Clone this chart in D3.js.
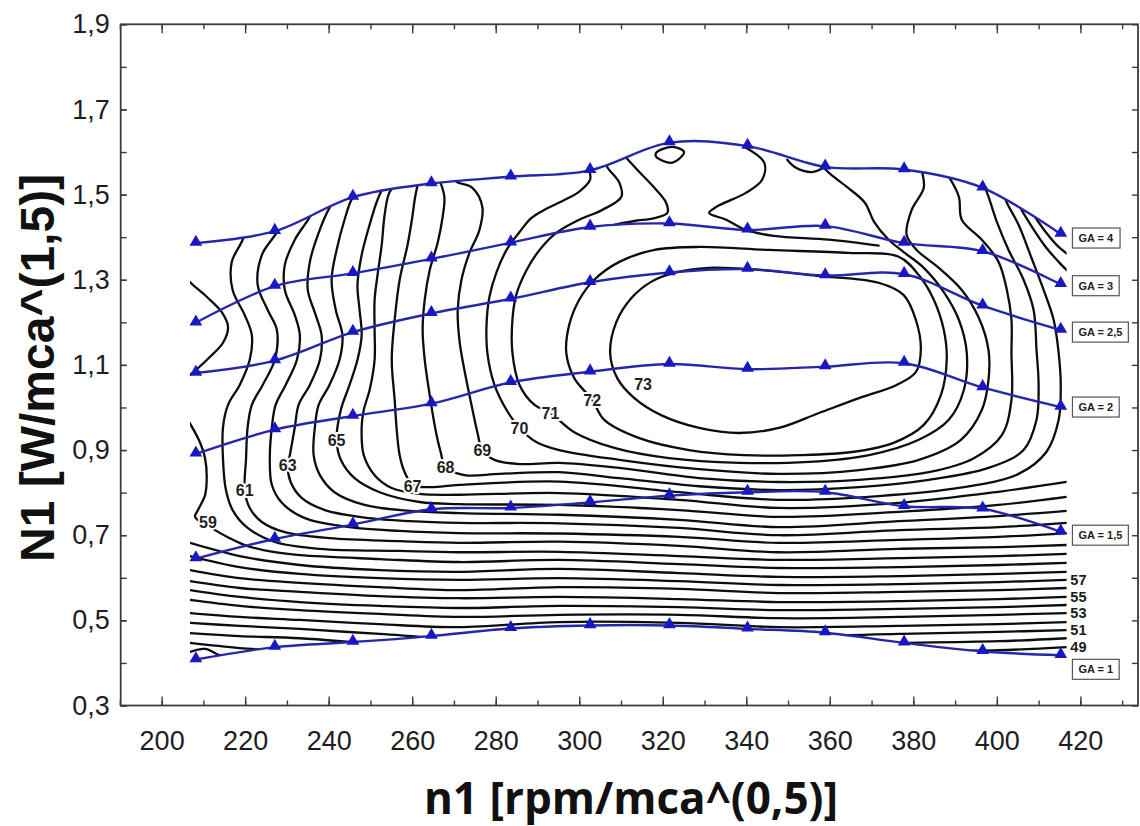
<!DOCTYPE html>
<html><head><meta charset="utf-8">
<script src="https://cdn.jsdelivr.net/npm/d3@7"></script>
<style>body{margin:0;background:#fff}svg{display:block}</style>
</head><body>
<svg id="c" width="1140" height="826"></svg>
<script>
// ---------- axis ticks ----------
const xTicks = [200,220,240,260,280,300,320,340,360,380,400,420];
const xMinorTicks = [190,200,210,220,230,240,250,260,270,280,290,300,310,320,330,340,350,360,370,380,390,400,410,420,430];
const yTicks = [0.3,0.5,0.7,0.9,1.1,1.3,1.5,1.7,1.9];
const yTickLabels = ["0,3","0,5","0,7","0,9","1,1","1,3","1,5","1,7","1,9"];
const yMinorTicks = [0.3,0.4,0.5,0.6,0.7,0.8,0.9,1.0,1.1,1.2,1.3,1.4,1.5,1.6,1.7,1.8,1.9];

// ---------- GA curves (blue, triangles) ----------
const gaX  = [208.2,227.1,245.8,264.6,283.6,302.6,321.6,340.3,358.9,377.8,396.6,415.3];
const ga4  = [1.386,1.414,1.494,1.526,1.542,1.557,1.622,1.614,1.565,1.559,1.516,1.407];
const ga3  = [1.199,1.285,1.315,1.349,1.387,1.424,1.432,1.417,1.426,1.386,1.367,1.289];
const ga25 = [1.081,1.110,1.177,1.221,1.255,1.294,1.317,1.325,1.310,1.313,1.239,1.182];
const ga2  = [0.891,0.948,0.980,1.009,1.059,1.084,1.102,1.090,1.096,1.104,1.047,1.001];
const ga15 = [0.645,0.691,0.725,0.761,0.764,0.777,0.793,0.801,0.801,0.768,0.762,0.708];
const ga1  = [0.408,0.437,0.449,0.463,0.481,0.488,0.488,0.480,0.471,0.447,0.427,0.418];
const gaNames  = ["GA = 4","GA = 3","GA = 2,5","GA = 2","GA = 1,5","GA = 1"];
const gaLabelY = [1.398,1.286,1.177,1.001,0.700,0.385];
const gaLabelX = 418.1;
const regionX = [206.8,416.7];

// ---------- lower band contours (48..58) ----------
const bandX  = [206.8,218.7,233.1,252.2,271.3,295.2,323.9,347.8,376.5,400.4,416.7];
const band58 = [0.682,0.651,0.630,0.618,0.614,0.621,0.611,0.602,0.604,0.609,0.614];
const band57 = [0.651,0.625,0.609,0.599,0.595,0.599,0.592,0.583,0.585,0.590,0.595];
const band56 = [0.618,0.599,0.588,0.578,0.571,0.578,0.574,0.564,0.567,0.571,0.576];
const band55 = [0.592,0.576,0.567,0.557,0.552,0.555,0.550,0.543,0.545,0.550,0.555];
const band54 = [0.571,0.555,0.543,0.534,0.529,0.534,0.531,0.524,0.527,0.531,0.536];
const band53 = [0.548,0.534,0.524,0.515,0.508,0.513,0.513,0.505,0.508,0.513,0.517];
const band52 = [0.517,0.508,0.501,0.491,0.484,0.496,0.494,0.484,0.487,0.491,0.496];
const band51 = [0.494,0.487,0.480,0.468,0.458,0.473,0.470,0.463,0.468,0.473,0.477];
const band50 = [0.470,0.463,0.458,0.444,0.435,0.454,0.449,0.444,0.447,0.451,0.458];
const band49 = [0.447,0.435,0.426,0.416,0.411,0.419,0.426,0.426,0.428,0.430,0.437];
const line48 = [[206.8,0.426],[210.4,0.433],[213.9,0.418],[218.7,0.402]];

// ---------- contours 59..66: left vertical part + horizontal tail ----------
const tailX = [271.3,295.2,323.9,347.8,376.5,400.4,416.7];
const head59 = [[206.0,0.975],[208.9,0.924],[210.4,0.881],[210.8,0.837],[210.4,0.794],[208.7,0.759],[208.0,0.743],[211.6,0.719],[216.3,0.693],[220.4,0.675],[227.1,0.660],[233.1,0.653],[252.2,0.644]];
const tail59 = [0.637,0.642,0.632,0.623,0.625,0.630,0.635];
const head60 = [[221.1,1.452],[219.4,1.394],[216.8,1.342],[217.0,1.276],[219.9,1.217],[221.6,1.170],[221.1,1.112],[218.7,1.053],[215.9,1.006],[214.7,0.954],[214.7,0.877],[215.4,0.806],[217.0,0.759],[220.6,0.717],[227.1,0.684],[237.9,0.668],[257.0,0.663]];
const tail60 = [0.660,0.661,0.651,0.642,0.646,0.651,0.656];
const head61 = [[230.7,1.476],[227.6,1.412],[224.0,1.358],[223.0,1.288],[225.4,1.229],[227.6,1.182],[227.1,1.112],[224.2,1.053],[221.6,1.006],[220.6,0.954],[220.2,0.877],[219.9,0.806],[221.1,0.764],[224.0,0.731],[229.5,0.707],[240.2,0.693],[257.0,0.686]];
const tail61 = [0.682,0.685,0.675,0.660,0.668,0.672,0.677];
const head62 = [[237.4,1.488],[235.5,1.448],[231.9,1.394],[229.5,1.335],[229.5,1.276],[231.9,1.217],[233.1,1.170],[232.4,1.112],[229.7,1.053],[227.3,1.006],[226.4,0.954],[225.9,0.877],[226.4,0.818],[228.8,0.776],[234.3,0.740],[245.0,0.719],[257.0,0.710]];
const tail62 = [0.705,0.704,0.696,0.682,0.689,0.696,0.705];
const head63 = [[242.6,1.499],[240.2,1.469],[237.4,1.405],[235.5,1.342],[235.0,1.276],[236.9,1.217],[238.3,1.170],[237.9,1.112],[235.5,1.053],[232.8,1.006],[231.9,0.954],[230.7,0.888],[230.2,0.865],[230.9,0.825],[233.6,0.787],[239.1,0.759],[249.8,0.740],[259.4,0.733]];
const tail63 = [0.729,0.728,0.717,0.700,0.712,0.719,0.729];
const head64 = [[247.9,1.511],[245.7,1.492],[243.8,1.441],[241.9,1.370],[240.7,1.300],[241.7,1.229],[243.3,1.170],[242.6,1.112],[240.2,1.053],[237.6,1.006],[236.7,0.954],[236.4,0.888],[237.9,0.841],[241.4,0.801],[248.6,0.771],[259.4,0.757]];
const tail64 = [0.752,0.748,0.736,0.719,0.733,0.745,0.757];
const head65 = [[253.4,1.523],[251.7,1.488],[249.8,1.429],[247.9,1.358],[246.9,1.288],[247.4,1.229],[247.9,1.170],[246.9,1.112],[245.0,1.053],[242.9,0.994],[241.9,0.924],[242.9,0.877],[246.2,0.834],[252.2,0.801],[261.8,0.778]];
const tail65 = [0.773,0.771,0.759,0.743,0.755,0.771,0.790];
const head66 = [[257.0,1.530],[254.6,1.506],[253.4,1.452],[252.7,1.382],[251.7,1.311],[251.0,1.253],[251.0,1.182],[251.0,1.112],[249.8,1.041],[248.4,0.994],[247.9,0.954],[248.4,0.888],[251.0,0.841],[255.1,0.811],[261.8,0.797]];
const tail66 = [0.795,0.799,0.783,0.764,0.776,0.802,0.825];

// ---------- contours 67..71 wrapping round the optimum ----------
const c67 = [[261.3,1.523],[260.6,1.488],[260.1,1.452],[258.9,1.382],[257.0,1.300],[255.8,1.206],[255.1,1.112],[255.8,1.018],[256.3,0.947],[257.0,0.888],[258.2,0.848],[260.1,0.818],[264.2,0.813],[271.3,0.818],[295.2,0.826],[323.9,0.801],[347.8,0.783],[371.7,0.792],[390.9,0.811],[405.2,0.844],[411.9,0.896],[414.8,0.971],[415.3,1.053],[414.8,1.128],[413.6,1.206],[411.2,1.276],[408.3,1.351],[405.2,1.429],[402.4,1.481],[401.2,1.511]];
const c68 = [[266.5,1.535],[267.7,1.495],[267.3,1.448],[266.1,1.387],[264.2,1.323],[263.0,1.253],[262.5,1.182],[263.0,1.112],[264.2,1.029],[265.6,0.947],[266.8,0.896],[268.0,0.860],[272.5,0.841],[280.9,0.844],[295.2,0.848],[309.6,0.834],[328.7,0.815],[347.8,0.806],[367.0,0.813],[383.7,0.830],[398.0,0.858],[406.4,0.900],[409.5,0.971],[410.0,1.053],[409.5,1.135],[408.8,1.229],[406.4,1.300],[402.8,1.370],[400.0,1.436],[398.0,1.495],[396.9,1.523]];
const c69 = [[269.4,1.546],[270.6,1.530],[274.4,1.516],[276.8,1.471],[276.1,1.417],[273.7,1.363],[271.8,1.300],[270.9,1.229],[271.3,1.159],[272.5,1.088],[274.2,1.006],[275.6,0.942],[276.8,0.900],[279.7,0.877],[285.7,0.867],[295.2,0.870],[309.6,0.858],[328.7,0.834],[347.8,0.825],[367.0,0.830],[383.7,0.848],[394.5,0.881],[401.2,0.935],[403.5,1.018],[403.5,1.128],[403.5,1.206],[402.4,1.276],[400.4,1.342],[396.4,1.394],[391.6,1.441],[390.9,1.495],[388.5,1.542],[387.3,1.558]];
const c70 = [[301.9,1.570],[302.4,1.558],[302.6,1.535],[300.0,1.507],[296.0,1.485],[292.0,1.466],[288.5,1.445],[285.7,1.412],[282.6,1.370],[280.2,1.318],[278.5,1.260],[277.8,1.194],[278.0,1.128],[279.7,1.053],[282.6,0.994],[285.7,0.952],[289.7,0.919],[295.2,0.900],[309.6,0.877],[328.7,0.855],[347.8,0.844],[367.0,0.853],[381.3,0.877],[391.4,0.924],[396.4,0.994],[398.0,1.065],[398.0,1.135],[395.7,1.210],[391.6,1.276],[386.1,1.328],[380.8,1.370],[378.4,1.405],[379.6,1.464],[382.5,1.516],[382.0,1.558],[381.3,1.582]];
const c71 = [[307.2,1.586],[306.5,1.570],[309.6,1.528],[310.1,1.495],[305.5,1.464],[300.0,1.441],[294.5,1.410],[290.5,1.370],[287.4,1.323],[284.9,1.264],[284.0,1.206],[284.0,1.128],[285.7,1.053],[289.3,1.006],[293.1,0.987],[298.8,0.942],[308.4,0.905],[321.5,0.881],[338.3,0.870],[355.0,0.872],[369.4,0.888],[381.3,0.924],[388.5,0.971],[392.1,1.041],[392.8,1.128],[390.9,1.206],[387.3,1.271],[382.5,1.328],[377.7,1.365],[374.1,1.394],[370.6,1.436],[368.4,1.481],[364.1,1.518],[359.8,1.551],[357.9,1.570]];
// closed loops
const loop72 = [[296.9,1.128],[297.6,1.194],[300.0,1.253],[303.6,1.300],[309.6,1.342],[318.0,1.370],[328.7,1.377],[345.5,1.370],[364.6,1.363],[376.5,1.354],[381.3,1.311],[384.9,1.253],[387.3,1.182],[388.0,1.112],[386.6,1.029],[382.5,0.959],[375.3,0.917],[365.8,0.896],[352.6,0.888],[339.5,0.888],[326.3,0.900],[314.4,0.928],[306.0,0.971],[303.1,1.018],[298.8,1.069]];
const loop73 = [[307.4,1.128],[308.9,1.201],[312.5,1.257],[317.2,1.295],[322.7,1.316],[331.1,1.328],[343.1,1.323],[357.4,1.309],[371.7,1.293],[377.7,1.264],[380.6,1.206],[381.8,1.135],[380.6,1.083],[376.0,1.053],[367.0,1.022],[357.4,0.987],[347.8,0.952],[338.3,0.940],[328.7,0.952],[319.6,0.982],[313.2,1.022],[309.1,1.069]];
const diamond = [[318.4,1.598],[322.3,1.612],[325.1,1.600],[322.3,1.575],[318.4,1.589]];
// small open pieces
const piece59a = [[205.8,1.314],[206.3,1.300],[210.8,1.260],[214.4,1.224],[215.9,1.189],[214.7,1.152],[211.6,1.119],[208.2,1.088],[205.8,1.069]];
const pieceC = [[311.3,1.586],[314.4,1.553],[318.0,1.516],[320.8,1.481],[321.1,1.457],[318.0,1.445],[313.2,1.438],[308.4,1.429]];
const pieceE = [[339.9,1.610],[344.3,1.575],[343.8,1.535],[339.9,1.504],[332.8,1.471],[331.1,1.457],[335.2,1.441],[339.9,1.417],[346.6,1.403],[359.8,1.394],[371.7,1.380]];
const pieceHook = [[349.8,1.582],[351.9,1.563],[355.7,1.553],[358.6,1.563]];
const corner66 = [[405.9,1.464],[408.1,1.429],[411.7,1.377],[414.8,1.342],[417.2,1.318]];
const corner65 = [[409.3,1.445],[411.7,1.412],[414.3,1.382],[417.2,1.358]];

// ---------- contour labels ----------
const labelText = ["59","61","63","65","67","68","69","70","71","72","73"];
const labelX = [211.1,219.9,230.2,241.9,260.1,268.0,276.8,285.7,293.1,303.1,315.3];
const labelY = [0.731,0.806,0.865,0.924,0.816,0.860,0.900,0.952,0.987,1.018,1.055];
const edgeLabelText = ["57","55","53","51","49"];
const edgeLabelY = [0.595,0.555,0.517,0.477,0.437];
const edgeLabelX = 417.6;

// ================= drawing =================
const svg = d3.select("#c");
const W = 1140, H = 826;
svg.append("rect").attr("width",W).attr("height",H).attr("fill","#fff");

const x = d3.scaleLinear().domain([190.2,433.8]).range([120.7,1138]);
const y = d3.scaleLinear().domain([0.3,1.9]).range([705.5,24.3]);
const [X0,X1] = x.range(), [Y0,Y1] = y.range();
const FONT = "'Liberation Sans', Arial, sans-serif";
const AX = "#3c3c3c";

const smooth = d3.line().x(d=>x(d[0])).y(d=>y(d[1])).curve(d3.curveCatmullRom.alpha(0.5));
const smoothClosed = d3.line().x(d=>x(d[0])).y(d=>y(d[1])).curve(d3.curveCatmullRomClosed.alpha(0.5));

// clip region bounded by GA = 4 and GA = 1
const topPts = gaX.map((v,i)=>[v,ga4[i]]);
const botPts = gaX.map((v,i)=>[v,ga1[i]]).reverse();
const dTop = smooth(topPts), dBot = smooth(botPts);
const clipD = `M${x(regionX[0])},${y(ga4[0])}L` + dTop.slice(1) +
  `L${x(regionX[1])},${y(ga4[ga4.length-1])}L${x(regionX[1])},${y(ga1[ga1.length-1])}L` +
  dBot.slice(1) + `L${x(regionX[0])},${y(ga1[0])}Z`;
svg.append("defs").append("clipPath").attr("id","region").append("path").attr("d",clipD);

// assemble contour polylines
const bands = [band58,band57,band56,band55,band54,band53,band52,band51,band50,band49];
const heads = [head59,head60,head61,head62,head63,head64,head65,head66];
const tails = [tail59,tail60,tail61,tail62,tail63,tail64,tail65,tail66];
const openLines = [];
bands.forEach(b=>openLines.push(bandX.map((v,i)=>[v,b[i]])));
openLines.push(line48);
heads.forEach((h,k)=>openLines.push(h.concat(tailX.map((v,i)=>[v,tails[k][i]]))));
[c67,c68,c69,c70,c71,piece59a,pieceC,pieceE,pieceHook,corner66,corner65].forEach(p=>openLines.push(p));
const closedLines = [loop72,loop73,diamond];

const cg = svg.append("g").attr("clip-path","url(#region)");
cg.selectAll("path.o").data(openLines).join("path").attr("class","o")
  .attr("d",smooth).attr("fill","none").attr("stroke","#0d0d0d").attr("stroke-width",2.3)
  .attr("stroke-linejoin","round").attr("stroke-linecap","round");
cg.selectAll("path.c").data(closedLines).join("path").attr("class","c")
  .attr("d",smoothClosed).attr("fill","none").attr("stroke","#0d0d0d").attr("stroke-width",2.3);

// contour labels (white halo breaks the line)
svg.append("g").selectAll("text").data(labelText).join("text")
  .attr("x",(d,i)=>x(labelX[i])).attr("y",(d,i)=>y(labelY[i]))
  .attr("text-anchor","middle").attr("dy","0.36em")
  .attr("font-family",FONT).attr("font-size",16).attr("font-weight","bold")
  .attr("fill","#1f1f1f").attr("stroke","#fff").attr("stroke-width",4).attr("paint-order","stroke")
  .text(d=>d);
svg.append("g").selectAll("text").data(edgeLabelText).join("text")
  .attr("x",x(edgeLabelX)).attr("y",(d,i)=>y(edgeLabelY[i]))
  .attr("dy","0.36em").attr("font-family",FONT).attr("font-size",14.5).attr("font-weight","bold")
  .attr("fill","#1a1a1a").text(d=>d);

// ---------- frame and axes ----------
function styleAxis(g){
  g.select(".domain").remove();
  g.selectAll(".tick line").attr("stroke",AX).attr("stroke-width",1.4);
  g.selectAll(".tick text").attr("font-family",FONT).attr("font-size",27).attr("fill","#1e1e1e");
}
svg.append("g").attr("transform",`translate(0,${Y0})`)
  .call(d3.axisBottom(x).tickValues(xMinorTicks).tickSize(-5).tickFormat("")).call(styleAxis);
svg.append("g").attr("transform",`translate(0,${Y0})`)
  .call(d3.axisBottom(x).tickValues(xTicks).tickSize(-9).tickPadding(25).tickFormat(d=>d)).call(styleAxis);
svg.append("g").attr("transform",`translate(0,${Y1})`)
  .call(d3.axisTop(x).tickValues(xMinorTicks).tickSize(-5).tickFormat("")).call(styleAxis);
svg.append("g").attr("transform",`translate(0,${Y1})`)
  .call(d3.axisTop(x).tickValues(xTicks).tickSize(-9).tickFormat("")).call(styleAxis);
svg.append("g").attr("transform",`translate(${X0},0)`)
  .call(d3.axisLeft(y).tickValues(yMinorTicks).tickSize(-6).tickFormat("")).call(styleAxis);
svg.append("g").attr("transform",`translate(${X0},0)`)
  .call(d3.axisLeft(y).tickValues(yTicks).tickSize(-6).tickPadding(11).tickFormat((d,i)=>yTickLabels[i])).call(styleAxis);
svg.append("g").attr("transform",`translate(${X1},0)`)
  .call(d3.axisRight(y).tickValues(yMinorTicks).tickSize(-6).tickFormat("")).call(styleAxis);
svg.append("rect").attr("x",X0).attr("y",Y1).attr("width",X1-X0).attr("height",Y0-Y1)
  .attr("fill","none").attr("stroke",AX).attr("stroke-width",1.8);

// ---------- GA curves ----------
const gaSeries = [ga4,ga3,ga25,ga2,ga15,ga1];
const gg = svg.append("g");
gaSeries.forEach((s,k)=>{
  const pts = gaX.map((v,i)=>[v,s[i]]);
  gg.append("path").attr("d",smooth(pts)).attr("fill","none")
    .attr("stroke","#2626ab").attr("stroke-width",2.4);
  gg.selectAll(null).data(pts).join("path")
    .attr("transform",d=>`translate(${x(d[0])},${y(d[1])-1})`)
    .attr("d",d3.symbol(d3.symbolTriangle).size(70)).attr("fill","#1717c4");
});

// GA label boxes
const lg = svg.append("g");
gaNames.forEach((n,k)=>{
  const t = lg.append("text").attr("x",x(gaLabelX)+6).attr("y",y(gaLabelY[k]))
    .attr("dy","0.36em").attr("font-family",FONT).attr("font-size",11)
    .attr("font-weight","bold").attr("fill","#222").text(n);
  const bb = t.node().getBBox();
  lg.insert("rect","text").attr("x",x(gaLabelX)).attr("y",y(gaLabelY[k])-10)
    .attr("width",bb.width+12).attr("height",20).attr("fill","#fff")
    .attr("stroke","#555").attr("stroke-width",1.2);
});

// ---------- axis titles ----------
svg.append("text").attr("transform",`translate(54,${(Y0+Y1)/2+3}) rotate(-90)`)
  .attr("text-anchor","middle").attr("font-family",FONT).attr("font-weight","bold")
  .attr("font-size",48).attr("fill","#111").text("N1 [W/mca^(1,5)]");
svg.append("text").attr("x",631).attr("y",814).attr("text-anchor","middle")
  .attr("font-family","'Open Sans', 'Liberation Sans', sans-serif").attr("font-weight","bold")
  .attr("font-size",44).attr("fill","#111").text("n1 [rpm/mca^(0,5)]");
</script>
</body></html>
